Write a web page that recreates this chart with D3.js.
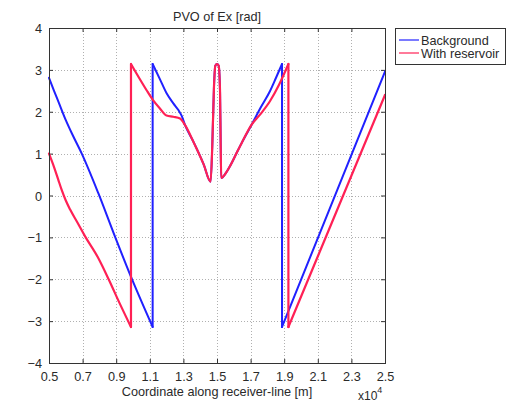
<!DOCTYPE html>
<html>
<head>
<meta charset="utf-8">
<script src="https://cdn.jsdelivr.net/npm/d3@7"></script>
<style>
  html, body { margin: 0; padding: 0; background: #fff; }
  svg { display: block; }
  text { font-family: "Liberation Sans", Arial, sans-serif; fill: #2a2a2a; }
</style>
</head>
<body>
<svg id="chart" width="508" height="403"></svg>
<script>
// Receiver coordinates in metres, phase in radians
const bgX = [5000, 5300, 5600, 6000, 6400, 6950, 7930, 8830, 9920, 11170,
             11170, 11600, 12000, 12400, 12700, 12900, 13100, 13600, 14200, 14620,
             14720, 14820, 14900, 15000, 15100, 15180, 15220, 15250, 15500, 15800, 16100, 16500,
             17060, 17600, 18150, 18500, 18870,
             18870, 25000];
const bgY = [2.81, 2.50, 2.20, 1.80, 1.45, 1.00, 0.06, -0.88, -1.98, -3.14,
             3.14, 2.78, 2.44, 2.20, 2.04, 1.90, 1.68, 1.28, 0.75, 0.33,
             1.20, 2.60, 3.10, 3.14, 3.10, 2.50, 1.20, 0.42, 0.52, 0.72, 0.96, 1.28,
             1.69, 2.10, 2.49, 2.80, 3.14,
             -3.14, 2.96];

const resX = [5000, 5300, 5550, 5750, 6000, 6250, 6700, 7140, 7900, 8550, 9200, 9880,
              9880, 10420, 10800, 11170, 11600, 12000, 12400, 12800, 13100, 13600, 14200, 14620,
              14720, 14820, 14900, 15000, 15100, 15180, 15220, 15250, 15500, 15800, 16100, 16500,
              17060, 17600, 18150, 18700, 19250,
              19250, 25000];
const resY = [1.00, 0.68, 0.38, 0.14, -0.12, -0.33, -0.65, -0.97, -1.47, -2.00, -2.57, -3.14,
              3.14, 2.77, 2.52, 2.29, 2.08, 1.91, 1.88, 1.84, 1.68, 1.28, 0.75, 0.33,
              1.20, 2.60, 3.10, 3.14, 3.10, 2.50, 1.20, 0.42, 0.52, 0.72, 0.96, 1.28,
              1.69, 1.95, 2.25, 2.65, 3.14,
              -3.14, 2.40];

const xTicks = [5000, 7000, 9000, 11000, 13000, 15000, 17000, 19000, 21000, 23000, 25000];
const yTicks = [-4, -3, -2, -1, 0, 1, 2, 3, 4];
const seriesNames = ["Background", "With reservoir"];
const seriesColors = ["#2020ff", "#ff2055"];

const svg = d3.select("#chart");
const plot = { left: 49, right: 385, top: 28, bottom: 363 };

const x = d3.scaleLinear().domain([5000, 25000]).range([plot.left, plot.right]);
const y = d3.scaleLinear().domain([-4, 4]).range([plot.bottom, plot.top]);

// Dotted grid
const grid = svg.append("g").attr("stroke", "#b0b0b0").attr("stroke-width", 1)
  .attr("stroke-dasharray", "1,2");
grid.selectAll("line.v").data(xTicks.slice(1, -1)).join("line")
  .attr("x1", d => Math.round(x(d)) + 0.5).attr("x2", d => Math.round(x(d)) + 0.5)
  .attr("y1", plot.top).attr("y2", plot.bottom);
grid.selectAll("line.h").data(yTicks.slice(1, -1)).join("line")
  .attr("y1", d => Math.round(y(d)) + 0.5).attr("y2", d => Math.round(y(d)) + 0.5)
  .attr("x1", plot.left).attr("x2", plot.right);

// Axes with inward ticks on all four sides
const fmtX = d => d3.format(".1f")(d / 1e4);
const axB = svg.append("g").attr("transform", `translate(0,${plot.bottom})`)
  .call(d3.axisBottom(x).tickValues(xTicks).tickFormat(fmtX).tickSizeInner(-4).tickSizeOuter(0).tickPadding(9));
const axT = svg.append("g").attr("transform", `translate(0,${plot.top})`)
  .call(d3.axisTop(x).tickValues(xTicks).tickFormat("").tickSizeInner(-4).tickSizeOuter(0));
const axL = svg.append("g").attr("transform", `translate(${plot.left},0)`)
  .call(d3.axisLeft(y).tickValues(yTicks).tickFormat(d3.format("d")).tickSizeInner(-4).tickSizeOuter(0).tickPadding(7));
const axR = svg.append("g").attr("transform", `translate(${plot.right},0)`)
  .call(d3.axisRight(y).tickValues(yTicks).tickFormat("").tickSizeInner(-4).tickSizeOuter(0));

[axB, axT, axL, axR].forEach(g => {
  g.select(".domain").remove();
  g.selectAll("line").attr("stroke", "#333");
  g.selectAll("text").attr("font-size", 12.7).attr("fill", "#2a2a2a")
    .style("font-family", "'Liberation Sans', Arial, sans-serif");
});
axL.selectAll("text").attr("dy", "0.36em");

// Phase curves: each branch between ±π wraps is smoothed, and the wraps are straight jumps
const smooth = d3.line().x(d => x(d[0])).y(d => y(d[1])).curve(d3.curveMonotoneX);
const straight = d3.line().x(d => x(d[0])).y(d => y(d[1]));
function splitBranches(pts) {
  const runs = [[pts[0]]], jumps = [];
  for (let i = 1; i < pts.length; i++) {
    if (Math.abs(pts[i][1] - pts[i - 1][1]) > Math.PI) {
      jumps.push([pts[i - 1], pts[i]]);
      runs.push([]);
    }
    runs[runs.length - 1].push(pts[i]);
  }
  return { runs, jumps };
}
const series = [d3.zip(bgX, bgY), d3.zip(resX, resY)];
series.forEach((pts, i) => {
  const { runs, jumps } = splitBranches(pts);
  const g = svg.append("g")
    .attr("fill", "none")
    .attr("stroke", seriesColors[i])
    .attr("stroke-width", i === 1 ? 2.2 : 2)
    .attr("stroke-linejoin", "round")
    .attr("stroke-linecap", "round");
  g.selectAll("path.branch").data(runs).join("path").attr("class", "branch").attr("d", smooth);
  g.selectAll("path.wrap").data(jumps).join("path").attr("class", "wrap").attr("d", straight);
});

// Plot frame
svg.append("rect")
  .attr("x", plot.left + 0.5).attr("y", plot.top + 0.5)
  .attr("width", plot.right - plot.left).attr("height", plot.bottom - plot.top)
  .attr("fill", "none").attr("stroke", "#333").attr("stroke-width", 1);

// Title and labels
svg.append("text").attr("x", (plot.left + plot.right) / 2).attr("y", 21)
  .attr("text-anchor", "middle").attr("font-size", 12.7).text("PVO of Ex [rad]");
svg.append("text").attr("x", (plot.left + plot.right) / 2).attr("y", 396)
  .attr("text-anchor", "middle").attr("font-size", 12.7).text("Coordinate along receiver-line [m]");
const expo = svg.append("text").attr("x", 358).attr("y", 400).attr("font-size", 12);
expo.append("tspan").text("x10");
expo.append("tspan").attr("dy", -7).attr("font-size", 9).text("4");

// Legend
const leg = svg.append("g");
leg.append("rect").attr("x", 395.5).attr("y", 28.5).attr("width", 110).attr("height", 36)
  .attr("fill", "#fff").attr("stroke", "#333");
seriesNames.forEach((name, i) => {
  const ly = 40 + i * 13;
  leg.append("line").attr("x1", 399).attr("x2", 419).attr("y1", ly).attr("y2", ly)
    .attr("stroke", seriesColors[i]).attr("stroke-width", 1.2);
  leg.append("text").attr("x", 421).attr("y", ly).attr("dy", "0.36em")
    .attr("font-size", 12.7).text(name);
});
</script>
</body>
</html>
